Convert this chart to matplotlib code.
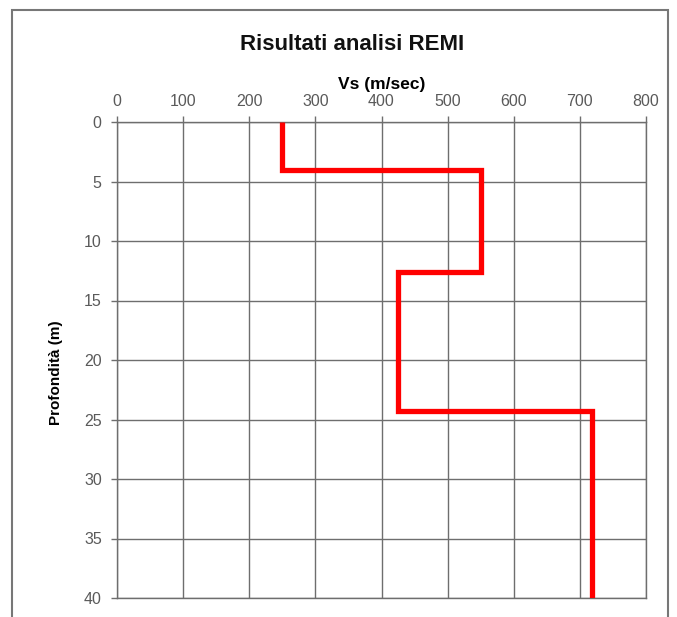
import numpy as np
import matplotlib.pyplot as plt
from matplotlib.patches import Rectangle

plt.rcParams['font.family'] = ['Liberation Sans', 'DejaVu Sans']

# REMI shear-wave velocity profile
vs = [250, 550, 425, 718]            # m/sec
depth_edges = [0, 4, 12.6, 24.3, 40]  # m
x_ticks = [0, 100, 200, 300, 400, 500, 600, 700, 800]
y_ticks = [0, 5, 10, 15, 20, 25, 30, 35, 40]

fig = plt.figure(figsize=(6.77, 6.17), dpi=100)
fig.patches.append(Rectangle((12 / 677, -0.05), 656 / 677, 1 - 10 / 617 + 0.05,
                             transform=fig.transFigure, fill=False,
                             edgecolor='#777777', linewidth=1.5))

ax = fig.add_axes([117 / 677, 1 - 598 / 617, 529 / 677, 476 / 617])
ax.stairs(vs, depth_edges, orientation='horizontal', baseline=None,
          color='#ff0000', linewidth=3.8, zorder=3)

ax.set_xlim(0, 800)
ax.set_ylim(40, 0)
ax.set_xticks(x_ticks)
ax.set_yticks(y_ticks)
ax.xaxis.tick_top()
ax.xaxis.set_label_position('top')
ax.grid(True, color='#6e6e6e', linewidth=1)
ax.set_axisbelow(True)
for s in ax.spines.values():
    s.set_color('#6e6e6e')
    s.set_linewidth(1)
ax.tick_params(colors='#6e6e6e', labelcolor='#5a5a5a', labelsize=11.5,
               length=4, width=1, pad=7)
ax.tick_params(axis='x', pad=5)

ax.set_xlabel('Vs (m/sec)', fontsize=12.5, fontweight='bold', labelpad=4)
ax.set_ylabel('Profondità (m)', fontsize=11, fontweight='bold')
ax.yaxis.set_label_coords(-117 / 529 + 63 / 529, 0.5 - 13 / 476)
fig.text(352 / 677, 1 - 45 / 617, 'Risultati analisi REMI', ha='center',
         va='center', fontsize=16, fontweight='bold', color='#111111')

fig.savefig('out.png', dpi=100)
